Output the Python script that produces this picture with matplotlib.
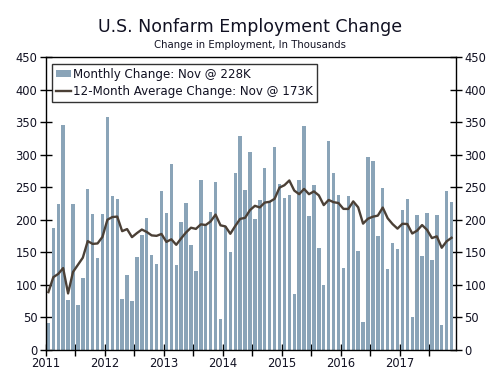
import matplotlib
matplotlib.use("Agg")
import matplotlib.pyplot as plt
import numpy as np

# Monthly nonfarm payroll change, Jan 2011 - Nov 2017 (thousands)
monthly_2011 = [42, 188, 225, 346, 77, 225, 69, 110, 248, 209, 141, 209]
monthly_2012 = [358, 237, 233, 78, 115, 76, 143, 177, 203, 146, 132, 244]
monthly_2013 = [211, 286, 130, 197, 226, 162, 122, 261, 190, 212, 258, 47]
monthly_2014 = [190, 151, 272, 329, 246, 304, 202, 230, 280, 227, 312, 255]
monthly_2015 = [234, 238, 86, 262, 344, 206, 254, 157, 100, 321, 272, 239]
monthly_2016 = [126, 237, 225, 153, 43, 297, 291, 176, 249, 124, 164, 155]
monthly_2017 = [216, 232, 50, 207, 145, 210, 138, 208, 38, 244, 228]

# 12-month average change (thousands)
avg_2011 = [89, 112, 117, 126, 87, 120, 131, 142, 167.5, 163.2, 163.9, 174.1]
avg_2012 = [200.4, 204.5, 205.2, 182.8, 186.0, 173.6, 179.8, 185.3, 181.6, 176.3, 175.6, 178.5]
avg_2013 = [166.3, 170.3, 161.8, 171.7, 180.9, 188.1, 186.3, 193.3, 192.3, 197.8, 208.3, 191.8]
avg_2014 = [190.1, 178.8, 190.7, 201.7, 203.3, 215.2, 221.8, 219.3, 226.8, 228.0, 232.5, 249.8]
avg_2015 = [253.5, 260.8, 245.3, 239.7, 247.8, 239.7, 244.0, 237.9, 222.9, 230.8, 227.4, 226.1]
avg_2016 = [217.1, 217.0, 228.6, 219.5, 194.4, 202.0, 205.1, 206.7, 219.1, 202.7, 193.7, 186.7]
avg_2017 = [194.2, 193.8, 179.2, 183.7, 192.2, 184.9, 172.2, 174.8, 157.3, 167.3, 172.6]

year_labels = ["2011", "2012", "2013", "2014", "2015", "2016", "2017"]
y_ticks = [0, 50, 100, 150, 200, 250, 300, 350, 400, 450]
bar_label = "Monthly Change: Nov @ 228K"
line_label = "12-Month Average Change: Nov @ 173K"

monthly = (monthly_2011 + monthly_2012 + monthly_2013 + monthly_2014 +
           monthly_2015 + monthly_2016 + monthly_2017)
avg12 = (avg_2011 + avg_2012 + avg_2013 + avg_2014 +
         avg_2015 + avg_2016 + avg_2017)
x = np.arange(len(monthly))

bar_color = "#8aa4b8"
line_color = "#4b4036"
text_color = "#111122"

fig = plt.figure(figsize=(5, 3.75), dpi=100)
ax = fig.add_axes([0.0914, 0.0667, 0.8206, 0.78])

bars = ax.bar(x, monthly, width=0.7, color=bar_color, label=bar_label, zorder=2)
line, = ax.plot(x, avg12, color=line_color, lw=1.7, label=line_label, zorder=3)

ax.set_xlim(-0.55, 82.9)
ax.set_ylim(0, 450)
ax.set_yticks(y_ticks)
ax.set_yticklabels([str(v) for v in y_ticks])

major = [-0.5 + 12 * k for k in range(len(year_labels))]
minor = [5.5 + 12 * k for k in range(len(year_labels))]
ax.set_xticks(major)
ax.set_xticklabels(year_labels)
ax.set_xticks(minor, minor=True)

ax.tick_params(axis="both", which="both", direction="inout", length=8,
               width=1, colors="black", labelcolor=text_color, labelsize=8.3)
ax.tick_params(axis="y", right=True, labelright=True, pad=2)
ax.tick_params(axis="x", pad=1)

for s in ax.spines.values():
    s.set_linewidth(1.0)
    s.set_color("black")

leg = ax.legend([bars, line], [bar_label, line_label],
                loc="upper left", bbox_to_anchor=(0.016, 0.978),
                borderaxespad=0, frameon=True, fancybox=False,
                fontsize=8.6, handlelength=1.25, handleheight=0.55,
                handletextpad=0.15, labelspacing=0.3, borderpad=0.35,
                labelcolor=text_color)
leg.get_frame().set_edgecolor("black")
leg.get_frame().set_linewidth(1.0)

fig.text(0.5, 1 - 27 / 375, "U.S. Nonfarm Employment Change", ha="center",
         va="center", fontsize=12.5, color=text_color)
fig.text(0.5, 1 - 44.5 / 375, "Change in Employment, In Thousands", ha="center",
         va="center", fontsize=7.3, color=text_color)

fig.savefig("out.png", dpi=100)
